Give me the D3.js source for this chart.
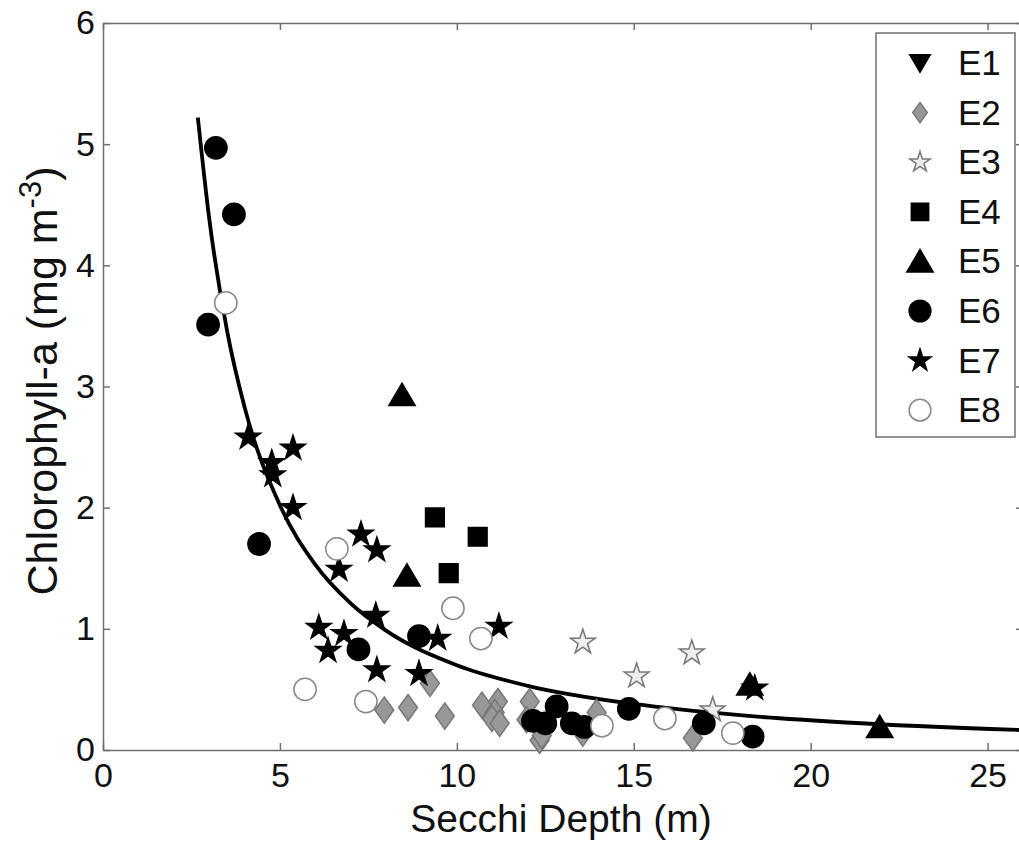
<!DOCTYPE html>
<html>
<head>
<meta charset="utf-8">
<script src="https://cdn.jsdelivr.net/npm/d3@7"></script>
<style>
  body { margin: 0; background: #fff; }
  svg { display: block; font-family: "Liberation Sans", Arial, sans-serif; }
  .axis path, .axis line { stroke: #6f6f6f; stroke-width: 1.5; }
  .axis text { font-size: 34px; fill: #111; }
</style>
</head>
<body>
<svg width="1019" height="846"></svg>
<script>
window.onload = function() {

var svg = d3.select("svg");

// data: [Secchi depth (m), chlorophyll-a (mg m-3)]
var e1 = [];
var e2 = [[9.24, 0.55], [7.95, 0.33], [8.62, 0.35], [9.66, 0.28], [10.71, 0.37], [11.16, 0.40],
          [11.07, 0.31], [10.99, 0.26], [11.21, 0.22], [12.06, 0.40], [11.97, 0.25], [12.34, 0.08],
          [12.40, 0.12], [13.95, 0.31], [13.56, 0.14], [16.67, 0.10]];
var e3 = [[13.56, 0.89], [15.08, 0.61], [16.64, 0.80], [17.23, 0.33]];
var e4 = [[9.38, 1.92], [10.59, 1.76], [9.77, 1.46]];
var e5 = [[8.45, 2.93], [8.59, 1.44], [18.28, 0.54], [21.95, 0.19]];
var e6 = [[3.19, 4.97], [3.70, 4.42], [2.97, 3.51], [4.41, 1.70], [7.22, 0.83], [8.93, 0.94],
          [12.15, 0.24], [12.50, 0.22], [12.82, 0.36], [13.25, 0.22], [13.60, 0.19], [14.86, 0.34],
          [16.98, 0.22], [18.36, 0.11]];
var e7 = [[4.10, 2.58], [5.37, 2.49], [4.77, 2.37], [4.80, 2.27], [5.37, 2.00], [7.29, 1.78],
          [7.74, 1.65], [6.67, 1.49], [7.71, 1.11], [11.19, 1.02], [6.10, 1.01], [6.81, 0.96],
          [6.36, 0.82], [9.46, 0.92], [7.74, 0.66], [8.93, 0.63], [18.42, 0.51]];
var e8 = [[3.47, 3.69], [6.61, 1.66], [9.89, 1.17], [10.68, 0.92], [5.71, 0.50], [7.43, 0.40],
          [14.10, 0.20], [15.88, 0.26], [17.80, 0.14]];

// fitted curve, points
var fitCurve = [[2.68, 5.22], [3.0, 4.39], [3.5, 3.47], [4.0, 2.83], [5.0, 2.02], [6.0, 1.53],
                [7.0, 1.21], [8.0, 0.985], [10.0, 0.70], [12.0, 0.53], [15.0, 0.38], [18.0, 0.287],
                [21.0, 0.227], [26.0, 0.164]];

var seriesNames = ["E1", "E2", "E3", "E4", "E5", "E6", "E7", "E8"];
var xTicks = [0, 5, 10, 15, 20, 25];
var yTicks = [0, 1, 2, 3, 4, 5, 6];

var x = d3.scaleLinear().domain([0, 26]).range([103, 1023]);
var y = d3.scaleLinear().domain([0, 6]).range([750, 23]);

// marker shapes
var diamond = { draw: function(ctx, size) {
    var h = Math.sqrt(size) * 0.72, w = h * 0.72;
    ctx.moveTo(0, -h); ctx.lineTo(w, 0); ctx.lineTo(0, h); ctx.lineTo(-w, 0); ctx.closePath();
}};
var triDown = { draw: function(ctx, size) {
    var s = Math.sqrt(size) * 0.76;
    ctx.moveTo(-s, -s * 0.8); ctx.lineTo(s, -s * 0.8); ctx.lineTo(0, s * 0.9); ctx.closePath();
}};
var triUp = { draw: function(ctx, size) {
    var s = Math.sqrt(size) * 0.76;
    ctx.moveTo(-s, s * 0.8); ctx.lineTo(s, s * 0.8); ctx.lineTo(0, -s * 0.9); ctx.closePath();
}};

var styles = {
    E1: { data: e1, type: triDown, size: 280, fill: "#000", stroke: "#000", lsize: 180 },
    E2: { data: e2, type: diamond, size: 330, fill: "#989898", stroke: "#777", lsize: 200 },
    E3: { data: e3, type: d3.symbolStar, size: 190, fill: "#eeeeee", stroke: "#777", lsize: 130 },
    E4: { data: e4, type: d3.symbolSquare, size: 350, fill: "#000", stroke: "#000", lsize: 300 },
    E5: { data: e5, type: triUp, size: 300, fill: "#000", stroke: "#000", lsize: 300 },
    E6: { data: e6, type: d3.symbolCircle, size: 390, fill: "#000", stroke: "#000", lsize: 370 },
    E7: { data: e7, type: d3.symbolStar, size: 190, fill: "#000", stroke: "#000", lsize: 150 },
    E8: { data: e8, type: d3.symbolCircle, size: 390, fill: "#fff", stroke: "#888", lsize: 370 }
};

// axes box
svg.append("g").attr("class", "axis")
    .attr("transform", "translate(0," + y(0) + ")")
    .call(d3.axisBottom(x).tickValues(xTicks).tickFormat(d3.format("d"))
        .tickSizeInner(-7).tickSizeOuter(0).tickPadding(13));
svg.append("g").attr("class", "axis")
    .attr("transform", "translate(" + x(0) + ",0)")
    .call(d3.axisLeft(y).tickValues(yTicks).tickFormat(d3.format("d"))
        .tickSizeInner(-7).tickSizeOuter(0).tickPadding(8));
svg.append("g").attr("class", "axis")
    .attr("transform", "translate(0," + y(6) + ")")
    .call(d3.axisTop(x).tickValues(xTicks).tickSizeInner(-7).tickSizeOuter(0).tickFormat(""));
svg.append("g").attr("class", "axis")
    .attr("transform", "translate(" + x(26) + ",0)")
    .call(d3.axisRight(y).tickValues(yTicks).tickSizeInner(-7).tickSizeOuter(0).tickFormat(""));

// fitted line
var line = d3.line()
    .x(function(d) { return x(d[0]); })
    .y(function(d) { return y(d[1]); })
    .curve(d3.curveMonotoneX);

svg.append("path")
    .datum(fitCurve)
    .attr("fill", "none")
    .attr("stroke", "#000")
    .attr("stroke-width", 3.8)
    .attr("d", line);

// points
seriesNames.forEach(function(name) {
    var s = styles[name];
    svg.append("g").attr("class", "series " + name)
        .selectAll("path")
        .data(s.data)
        .enter().append("path")
        .attr("transform", function(d) { return "translate(" + x(d[0]) + "," + y(d[1]) + ")"; })
        .attr("d", d3.symbol().type(s.type).size(s.size))
        .attr("fill", s.fill)
        .attr("stroke", s.stroke)
        .attr("stroke-width", 1.5);
});

// legend
var legend = svg.append("g").attr("transform", "translate(876,33)");
legend.append("rect")
    .attr("width", 139).attr("height", 404)
    .attr("fill", "#fff").attr("stroke", "#6f6f6f").attr("stroke-width", 1.5);

seriesNames.forEach(function(name, i) {
    var s = styles[name];
    var g = legend.append("g").attr("transform", "translate(0," + (30 + i * 49.6) + ")");
    g.append("path")
        .attr("transform", "translate(44,0)")
        .attr("d", d3.symbol().type(s.type).size(s.lsize))
        .attr("fill", s.fill)
        .attr("stroke", s.stroke)
        .attr("stroke-width", 1.5);
    g.append("text")
        .attr("x", 82).attr("y", 12)
        .style("font-size", "35px")
        .attr("fill", "#111")
        .text(name);
});

// axis titles
svg.append("text")
    .attr("x", 561).attr("y", 832)
    .attr("text-anchor", "middle")
    .style("font-size", "39px")
    .attr("fill", "#111")
    .text("Secchi Depth (m)");

var yTitle = svg.append("text")
    .attr("transform", "translate(57,381) rotate(-90)")
    .attr("text-anchor", "middle")
    .style("font-size", "43px")
    .attr("fill", "#111");
yTitle.append("tspan").text("Chlorophyll-a (mg m");
yTitle.append("tspan").attr("dy", -16).style("font-size", "31px").text("-3");
yTitle.append("tspan").attr("dy", 16).text(")");

}
</script>
</body>
</html>
